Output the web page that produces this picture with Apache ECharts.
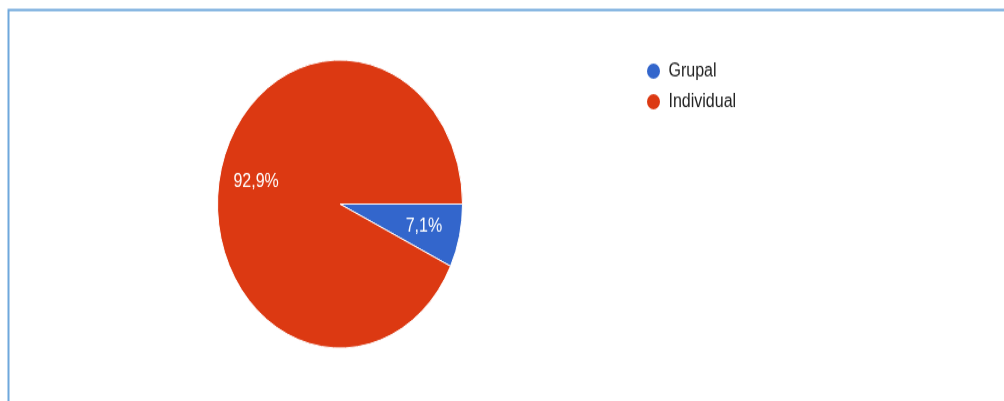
<!DOCTYPE html>
<html>
<head>
<meta charset="utf-8">
<script src="https://cdn.jsdelivr.net/npm/echarts@6/dist/echarts.min.js"></script>
<style>
html,body{margin:0;padding:0;background:#fff;overflow:hidden;}
#wrap{width:1004px;height:401px;overflow:hidden;}
#chart{width:1004px;height:341px;transform:scaleY(1.176);transform-origin:0 0;}
</style>
</head>
<body>
<div id="wrap"><div id="chart"></div></div>
<script>
const categories = ['Grupal', 'Individual'];
const values = [7.1, 92.9];
const colors = ['#3366cc', '#dc3912'];

const chart = echarts.init(document.getElementById('chart'), null, {renderer: 'canvas'});
const data = categories.map((c, i) => ({name: c, value: values[i], itemStyle: {color: colors[i]}}));
const fmt = p => String(p.value.toFixed(1)).replace('.', ',') + '%';

chart.setOption({
  animation: false,
  backgroundColor: '#fff',
  graphic: [{
    type: 'rect',
    shape: {x: 8.5, y: 8.5, width: 1100, height: 500},
    style: {fill: 'none', stroke: '#6fa8dc', lineWidth: 2},
    silent: true, z: 0
  }],
  legend: {
    orient: 'vertical',
    left: 640,
    top: 47,
    padding: 5,
    icon: 'circle',
    itemWidth: 16,
    itemHeight: 15,
    itemGap: 9,
    data: categories,
    textStyle: {fontFamily: 'Arial, "Liberation Sans", sans-serif', fontSize: 16, color: '#222', padding: [0, 0, 0, 2]}
  },
  series: [{
    type: 'pie',
    center: [340, 173.5],
    radius: [0, 122.5],
    startAngle: 0,
    clockwise: true,
    data: data,
    label: {show: false},
    labelLine: {show: false},
    itemStyle: {borderColor: '#fff', borderWidth: 1},
    emphasis: {disabled: true},
    silent: true
  }, {
    type: 'pie',
    center: [340, 173.5],
    radius: [0, 166],
    startAngle: 0,
    clockwise: true,
    data: categories.map((c, i) => ({name: c, value: values[i]})),
    itemStyle: {color: 'rgba(0,0,0,0)'},
    label: {
      show: true, position: 'inside', formatter: fmt,
      color: '#fff', fontSize: 16, fontFamily: 'Arial, "Liberation Sans", sans-serif'
    },
    labelLine: {show: false},
    emphasis: {disabled: true},
    silent: true,
    z: 3
  }]
});
</script>
</body>
</html>
